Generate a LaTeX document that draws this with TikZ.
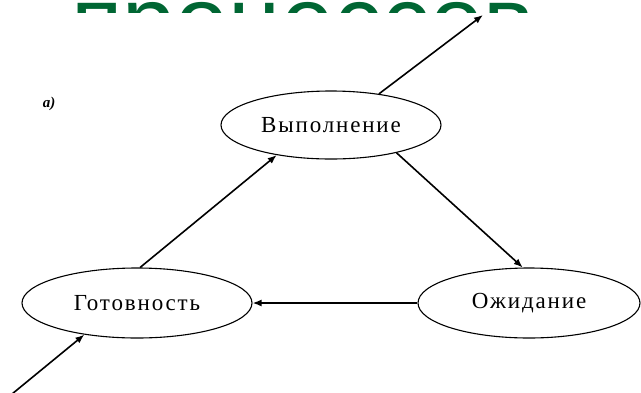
\documentclass[tikz,border=0pt]{standalone}
\usepackage{fontspec}
\setmainfont{Liberation Serif}
\newfontfamily\headfont{Liberation Sans}
\newfontfamily\statefont[LetterSpace=8]{Liberation Serif}
\usetikzlibrary{shapes.geometric,arrows.meta}
\definecolor{headgreen}{RGB}{0,102,51}
\begin{document}
\begin{tikzpicture}[x=1pt,y=-1pt,
  state/.style={ellipse,draw,line width=1.1pt,inner sep=0pt,
    font=\statefont\fontsize{23}{26}\selectfont},
  flow/.style={line width=1.6pt,-{Latex[length=9pt,width=7pt]}}]
\useasboundingbox (0,0) rectangle (641,392);
% heading, mostly hidden behind the white diagram panel
\node[anchor=base west,inner sep=0pt,text=headgreen,
  font=\headfont\fontsize{95}{100}\selectfont] (head) at (71,53) {процессов};
\fill[white] (0,13) rectangle (641,392);
% panel label
\node[font=\bfseries\itshape\fontsize{15}{17}\selectfont] (lbl) at (49,104) {а)};
% states
\node[state,minimum width=220pt,minimum height=68pt] (run) at (331,125) {Выполнение};
\node[state,minimum width=230pt,minimum height=70pt] (rdy) at (137,303) {Готовность};
\node[state,minimum width=222pt,minimum height=70pt] (wait) at (529,303) {Ожидание};
% free ends of the entry and exit transitions
\coordinate (enter) at (12,394);
\coordinate (leave) at (483,15);
% transitions
\draw[flow] (rdy.85) -- (run.209);
\draw[flow] (run.337) -- (wait.100);
\draw[flow] (wait.west) -- (rdy.east);
\draw[flow] (enter) -- (rdy.211.6);
\draw[flow] (run.33) -- (leave);
\end{tikzpicture}
\end{document}
